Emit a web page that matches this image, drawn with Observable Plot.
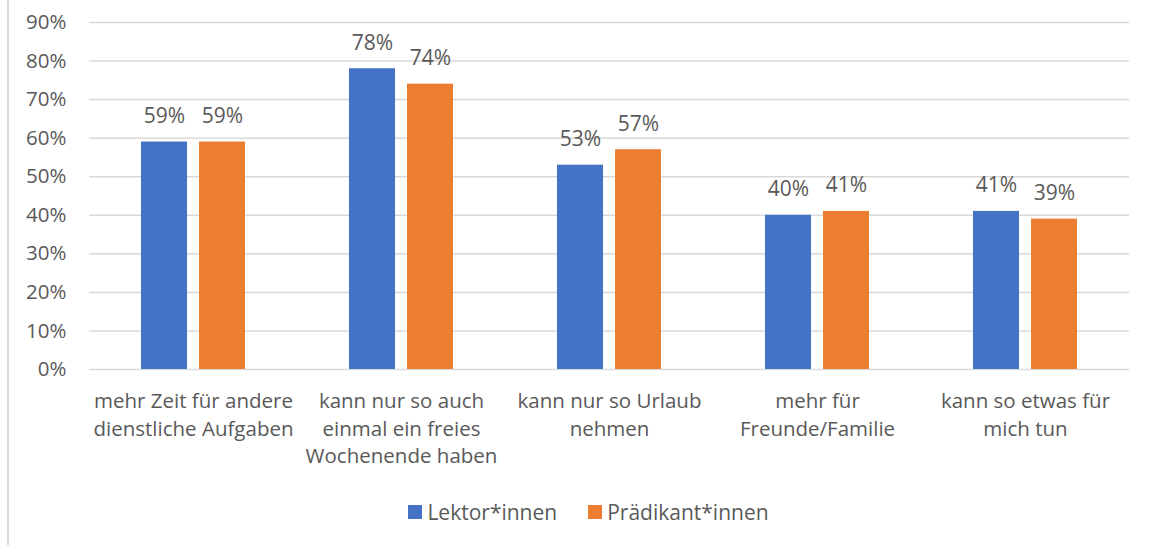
<!DOCTYPE html>
<html>
<head>
<meta charset="utf-8">
<script src="https://cdn.jsdelivr.net/npm/d3@7"></script>
<script src="https://cdn.jsdelivr.net/npm/@observablehq/plot@0.6"></script>
<style>
  html, body { margin: 0; padding: 0; background: #fff; }
  body { width: 1149px; height: 545px; position: relative; overflow: hidden; font-family: "Open Sans", sans-serif; }
  #frame { position: absolute; left: 7px; top: 0; width: 2px; height: 545px; background: #d9d9d9; }
  #legend { position: absolute; left: 14px; top: 498px; width: 1149px; height: 28px; display: flex; justify-content: center; align-items: center; gap: 0; color: #595959; font-size: 21px; }
  .item { display: flex; align-items: center; }
  .sw { width: 14px; height: 14px; margin-right: 5px; }
</style>
</head>
<body>
<div id="chart"></div>
<div id="frame"></div>
<div id="legend"></div>
<script>
const categories = [
  "mehr Zeit für andere dienstliche Aufgaben",
  "kann nur so auch einmal ein freies Wochenende haben",
  "kann nur so Urlaub nehmen",
  "mehr für Freunde/Familie",
  "kann so etwas für mich tun"
];
const categoryLabels = [
  "mehr Zeit für andere\ndienstliche Aufgaben",
  "kann nur so auch\neinmal ein freies\nWochenende haben",
  "kann nur so Urlaub\nnehmen",
  "mehr für\nFreunde/Familie",
  "kann so etwas für\nmich tun"
];
const series = ["Lektor*innen", "Prädikant*innen"];
const lektor = [59, 78, 53, 40, 41];
const praedikant = [59, 74, 57, 41, 39];
const yTicks = [0, 10, 20, 30, 40, 50, 60, 70, 80, 90];
const colors = ["#4472C4", "#ED7D31"];

const data = [];
categories.forEach((c, i) => {
  data.push({category: c, series: series[0], value: lektor[i]});
  data.push({category: c, series: series[1], value: praedikant[i]});
});
const labelOf = new Map(categories.map((c, i) => [c, categoryLabels[i]]));

const chart = Plot.plot({
  width: 1149,
  height: 490,
  marginLeft: 88,
  marginRight: 19,
  marginTop: 22,
  marginBottom: 121,
  style: {fontFamily: "Open Sans", fontSize: "20px", color: "#595959", background: "transparent"},
  fx: {domain: categories, padding: 0},
  x: {domain: series, paddingInner: 0.2034, paddingOuter: 0.868},
  y: {domain: [0, 90]},
  color: {domain: series, range: colors},
  marks: [
    Plot.gridY(yTicks, {stroke: "#d9d9d9", strokeOpacity: 1, strokeWidth: 1.5}),
    Plot.axisY(yTicks, {tickSize: 0, tickPadding: 23, tickFormat: d => d + "%", label: null, fill: "#595959", fontSize: 20.5}),
    Plot.axisFx({anchor: "bottom", tickSize: 0, tickPadding: 19, label: null, tickFormat: d => labelOf.get(d), lineHeight: 1.35, fill: "#595959", fontSize: 20.5}),
    Plot.axisX({ticks: [], label: null, tickSize: 0}),
    Plot.barY(data, {fx: "category", x: "series", y: "value", fill: "series"}),
    Plot.text(data, {fx: "category", x: "series", y: "value", text: d => d.value + "%", lineAnchor: "bottom", dy: -19, fill: "#595959", fontSize: 21})
  ]
});
document.getElementById("chart").appendChild(chart);

const legend = document.getElementById("legend");
series.forEach((s, i) => {
  const item = document.createElement("div");
  item.className = "item";
  if (i > 0) item.style.marginLeft = "31px";
  const sw = document.createElement("div");
  sw.className = "sw";
  sw.style.background = colors[i];
  const t = document.createElement("span");
  t.textContent = s;
  item.appendChild(sw);
  item.appendChild(t);
  legend.appendChild(item);
});
</script>
</body>
</html>
